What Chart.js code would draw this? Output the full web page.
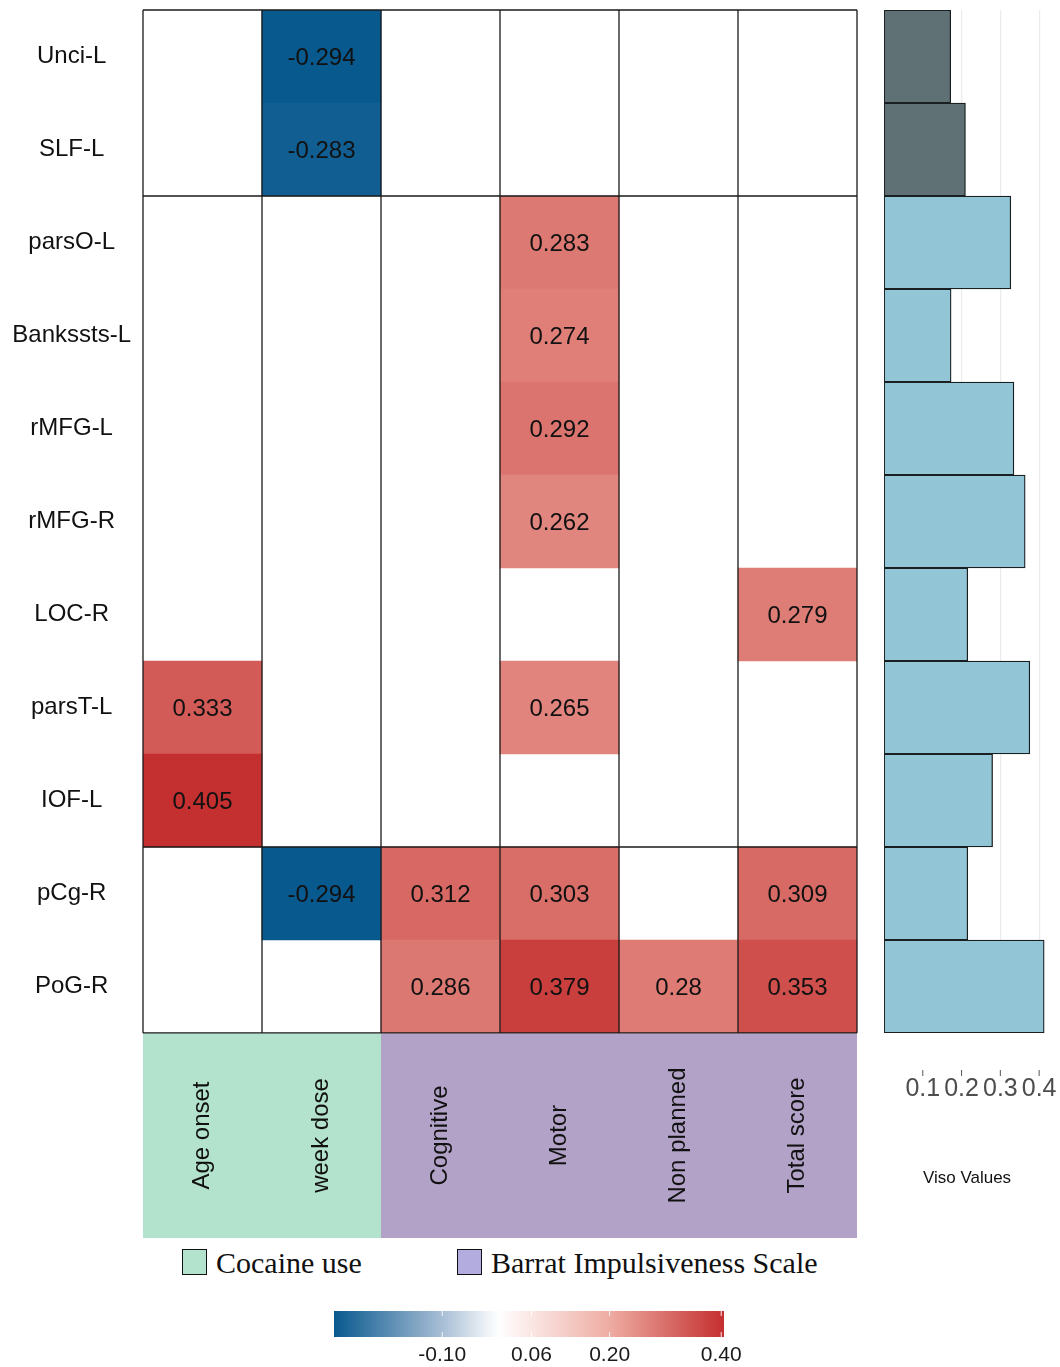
<!DOCTYPE html>
<html>
<head>
<meta charset="utf-8">
<title>Viso correlations</title>
<script src="https://cdn.jsdelivr.net/npm/chart.js@4.4.1/dist/chart.umd.min.js"></script>
<style>
  html, body { margin: 0; padding: 0; background: #ffffff; }
  #page { position: relative; width: 1060px; height: 1367px; overflow: hidden; background: #ffffff; }
  #page canvas { position: absolute; }
  .key-box { position: absolute; width: 23px; height: 24px; border: 1.5px solid #111111; }
  .key-text { position: absolute; font-family: 'Liberation Serif', 'Times New Roman', serif;
              font-size: 30px; line-height: 30px; color: #111111; white-space: nowrap; }
</style>
</head>
<body>
<div id="page">
  <canvas id="heat" width="870" height="1238" style="left:0px;top:0px"></canvas>
  <canvas id="viso" width="200" height="1200" style="left:860px;top:0px"></canvas>
  <canvas id="ramp" width="480" height="72" style="left:300px;top:1295px"></canvas>
</div>
<script>
// ---- data -------------------------------------------------------------
const rowLabels = ['Unci-L', 'SLF-L', 'parsO-L', 'Bankssts-L', 'rMFG-L', 'rMFG-R',
                   'LOC-R', 'parsT-L', 'IOF-L', 'pCg-R', 'PoG-R'];
const columnLabels = ['Age onset', 'week dose', 'Cognitive', 'Motor', 'Non planned', 'Total score'];

// correlation coefficients per clinical measure (null = no significant correlation)
const ageOnset   = [null, null, null, null, null, null, null, 0.333, 0.405, null, null];
const weekDose   = [-0.294, -0.283, null, null, null, null, null, null, null, -0.294, null];
const cognitive  = [null, null, null, null, null, null, null, null, null, 0.312, 0.286];
const motor      = [null, null, 0.283, 0.274, 0.292, 0.262, null, 0.265, null, 0.303, 0.379];
const nonPlanned = [null, null, null, null, null, null, null, null, null, null, 0.28];
const totalScore = [null, null, null, null, null, null, 0.279, null, null, 0.309, 0.353];

// group structure of rows (tracts / cortical regions) and columns (questionnaires)
const rowGroupSizes = [2, 7, 2];
const columnGroupNames = ['Cocaine use', 'Barrat Impulsiveness Scale'];
const columnGroupSizes = [2, 4];

// Viso values per region
const visoValues = [0.172, 0.210, 0.327, 0.173, 0.335, 0.364, 0.216, 0.376, 0.280, 0.216, 0.413];
const visoTicks = [0.1, 0.2, 0.3, 0.4];

// colour scale
const colorLimits = [-0.294, 0.405];
const colorTicks = [-0.10, 0.06, 0.20, 0.40];

// ---- styles -----------------------------------------------------------
const SANS = "'Liberation Sans', Arial, Helvetica, sans-serif";
const RAMP = [
  [-0.294, [8, 89, 142]],
  [-0.10, [168, 190, 213]],
  [0.00, [255, 255, 255]],
  [0.20, [238, 172, 162]],
  [0.405, [196, 47, 47]]
];
const GROUP_FILL = ['#b3e2cd', '#b3a2c7'];
const GROUP_KEY = ['#b3e2cd', '#b3acdf'];
const VISO_FILL = ['#5f7175', '#92c5d5'];
const LINE = '#1a1a1a';

Chart.defaults.font.family = SANS;

function rampColor(v) {
  if (v <= RAMP[0][0]) return rgb(RAMP[0][1]);
  for (let i = 1; i < RAMP.length; i++) {
    const [v1, c1] = RAMP[i];
    const [v0, c0] = RAMP[i - 1];
    if (v <= v1) {
      const t = (v - v0) / (v1 - v0);
      return rgb(c0.map((c, k) => c + (c1[k] - c) * t));
    }
  }
  return rgb(RAMP[RAMP.length - 1][1]);
}
function rgb(c) { return 'rgb(' + c.map(Math.round).join(',') + ')'; }

function line(ctx, x1, y1, x2, y2) {
  ctx.beginPath(); ctx.moveTo(x1, y1); ctx.lineTo(x2, y2); ctx.stroke();
}

// keep the plot area free of the automatic label overhang
function noOverhang(s) {
  s.paddingTop = 0; s.paddingBottom = 0; s.paddingLeft = 0; s.paddingRight = 0;
}

// ---- heatmap ----------------------------------------------------------
const columns = [ageOnset, weekDose, cognitive, motor, nonPlanned, totalScore];
const HEADER_H = 205;

const heatDecor = {
  id: 'heatDecor',
  afterDatasetsDraw(chart) {
    const { ctx, chartArea: a, scales: { x, y } } = chart;
    ctx.save();
    // cell values
    ctx.font = '24px ' + SANS;
    ctx.fillStyle = '#111111';
    ctx.textAlign = 'center';
    ctx.textBaseline = 'middle';
    chart.data.datasets.forEach((ds, di) => {
      chart.getDatasetMeta(di).data.forEach((el, i) => {
        const v = ds.values[i];
        if (v === null || v === undefined) return;
        const p = el.getCenterPoint();
        ctx.fillText(String(v), p.x, p.y + 2);
      });
    });
    // column separators
    ctx.strokeStyle = LINE;
    ctx.lineWidth = 1.3;
    for (let c = 0; c <= columnLabels.length; c++) {
      const px = x.getPixelForValue(c);
      line(ctx, px, a.top, px, a.bottom);
    }
    // row group separators
    const n = rowLabels.length;
    const edge = k => k === 0 ? a.top : k === n ? a.bottom
      : (y.getPixelForValue(k - 1) + y.getPixelForValue(k)) / 2;
    let k = 0;
    line(ctx, a.left, edge(0), a.right, edge(0));
    rowGroupSizes.forEach(s => {
      k += s;
      line(ctx, a.left, edge(k), a.right, edge(k));
    });
    ctx.restore();
  },
  afterDraw(chart) {
    const { ctx, chartArea: a, scales: { x } } = chart;
    ctx.save();
    // header bands for the two questionnaires
    let start = 0;
    columnGroupSizes.forEach((s, g) => {
      const x0 = x.getPixelForValue(start);
      const x1 = x.getPixelForValue(start + s);
      ctx.fillStyle = GROUP_FILL[g];
      ctx.fillRect(x0, a.bottom + 0.7, x1 - x0, HEADER_H - 0.7);
      start += s;
    });
    // rotated column names
    ctx.font = '24px ' + SANS;
    ctx.fillStyle = '#111111';
    ctx.textAlign = 'center';
    ctx.textBaseline = 'middle';
    columnLabels.forEach((lab, c) => {
      ctx.save();
      ctx.translate(x.getPixelForValue(c + 0.5), a.bottom + HEADER_H / 2);
      ctx.rotate(-Math.PI / 2);
      ctx.fillText(lab, 0, 0);
      ctx.restore();
    });
    ctx.restore();
  }
};

new Chart(document.getElementById('heat'), {
  type: 'bar',
  data: {
    labels: rowLabels,
    datasets: columns.map((vals, c) => ({
      label: columnLabels[c],
      values: vals,
      data: vals.map(v => v === null ? null : [c, c + 1]),
      backgroundColor: vals.map(v => v === null ? 'rgba(0,0,0,0)' : rampColor(v)),
      borderWidth: 0,
      grouped: false,
      barPercentage: 1,
      categoryPercentage: 1
    }))
  },
  options: {
    indexAxis: 'y',
    responsive: false,
    animation: false,
    events: [],
    layout: { padding: { top: 10, right: 13, bottom: 0, left: 0 } },
    plugins: { legend: { display: false }, tooltip: { enabled: false } },
    scales: {
      x: {
        type: 'linear', min: 0, max: columnLabels.length, position: 'bottom',
        ticks: { display: false },
        grid: { display: false, drawTicks: false },
        border: { display: false },
        afterFit: s => { s.height = HEADER_H; noOverhang(s); }
      },
      y: {
        type: 'category', position: 'left',
        grid: { display: false, drawTicks: false },
        border: { display: false },
        ticks: { font: { size: 24, family: SANS }, color: '#111111', crossAlign: 'center', padding: 12 },
        afterFit: s => { s.width = 143; noOverhang(s); }
      }
    }
  },
  plugins: [heatDecor]
});

// ---- Viso values bar panel -------------------------------------------
const visoMarks = {
  id: 'visoMarks',
  afterDraw(chart) {
    const { ctx, chartArea: a, scales: { x } } = chart;
    ctx.save();
    ctx.strokeStyle = '#555555';
    ctx.lineWidth = 1;
    visoTicks.forEach(v => {
      const px = x.getPixelForValue(v);
      line(ctx, px, a.bottom + 37, px, a.bottom + 43);
    });
    ctx.restore();
  }
};

const firstGroupEnd = rowGroupSizes[0];
new Chart(document.getElementById('viso'), {
  type: 'bar',
  data: {
    labels: rowLabels,
    datasets: [{
      data: visoValues,
      backgroundColor: visoValues.map((v, i) => i < firstGroupEnd ? VISO_FILL[0] : VISO_FILL[1]),
      borderColor: '#1a2022',
      borderWidth: 1.3,
      borderSkipped: false,
      barPercentage: 1,
      categoryPercentage: 1
    }]
  },
  options: {
    indexAxis: 'y',
    responsive: false,
    animation: false,
    events: [],
    layout: { padding: { top: 10, right: 10, bottom: 0, left: 24 } },
    plugins: { legend: { display: false }, tooltip: { enabled: false } },
    scales: {
      y: { display: false },
      x: {
        type: 'linear', min: 0, max: 0.428, position: 'bottom',
        afterBuildTicks: s => { s.ticks = visoTicks.map(v => ({ value: v })); },
        ticks: {
          font: { size: 25, family: SANS }, color: '#4d4d4d', padding: 41,
          autoSkip: false, maxRotation: 0, minRotation: 0,
          callback: v => String(v)
        },
        grid: { color: '#ebebeb', lineWidth: 1.2, drawTicks: false },
        border: { display: false },
        title: {
          display: true, text: 'Viso Values', color: '#111111',
          font: { size: 17, family: SANS }, padding: { top: 0, bottom: 11 }
        },
        afterFit: s => { s.height = 167; noOverhang(s); }
      }
    }
  },
  plugins: [visoMarks]
});

// ---- colour bar -------------------------------------------------------
const rampFill = {
  id: 'rampFill',
  afterDraw(chart) {
    const { ctx, chartArea: a, scales: { x } } = chart;
    ctx.save();
    const g = ctx.createLinearGradient(a.left, 0, a.right, 0);
    const steps = 80;
    for (let i = 0; i <= steps; i++) {
      const v = colorLimits[0] + (colorLimits[1] - colorLimits[0]) * i / steps;
      const off = (x.getPixelForValue(v) - a.left) / (a.right - a.left);
      g.addColorStop(Math.min(1, Math.max(0, off)), rampColor(v));
    }
    ctx.fillStyle = g;
    ctx.fillRect(a.left, a.top, a.right - a.left, a.bottom - a.top);
    ctx.strokeStyle = 'rgba(255,255,255,0.9)';
    ctx.lineWidth = 1;
    colorTicks.forEach(v => {
      const px = x.getPixelForValue(v);
      line(ctx, px, a.top, px, a.top + 5);
      line(ctx, px, a.bottom - 5, px, a.bottom);
    });
    ctx.restore();
  }
};

new Chart(document.getElementById('ramp'), {
  type: 'scatter',
  data: { datasets: [] },
  options: {
    responsive: false,
    animation: false,
    events: [],
    layout: { padding: { top: 16, right: 56, bottom: 0, left: 34 } },
    plugins: { legend: { display: false }, tooltip: { enabled: false } },
    scales: {
      x: {
        type: 'linear', min: colorLimits[0], max: colorLimits[1], position: 'bottom',
        afterBuildTicks: s => { s.ticks = colorTicks.map(v => ({ value: v })); },
        ticks: {
          font: { size: 21, family: SANS }, color: '#1a1a1a', padding: 6,
          autoSkip: false, maxRotation: 0, minRotation: 0,
          callback: v => Number(v).toFixed(2)
        },
        grid: { display: false, drawTicks: false },
        border: { display: false },
        afterFit: s => { s.height = 30; noOverhang(s); }
      },
      y: { display: false, min: 0, max: 1 }
    }
  },
  plugins: [rampFill]
});

// ---- group key --------------------------------------------------------
const page = document.getElementById('page');
const keyLeft = [182, 457];
columnGroupNames.forEach((name, g) => {
  const box = document.createElement('div');
  box.className = 'key-box';
  box.style.left = keyLeft[g] + 'px';
  box.style.top = '1249px';
  box.style.background = GROUP_KEY[g];
  page.appendChild(box);
  const txt = document.createElement('div');
  txt.className = 'key-text';
  txt.style.left = (keyLeft[g] + 34) + 'px';
  txt.style.top = '1248px';
  txt.textContent = name;
  page.appendChild(txt);
});
</script>
</body>
</html>
